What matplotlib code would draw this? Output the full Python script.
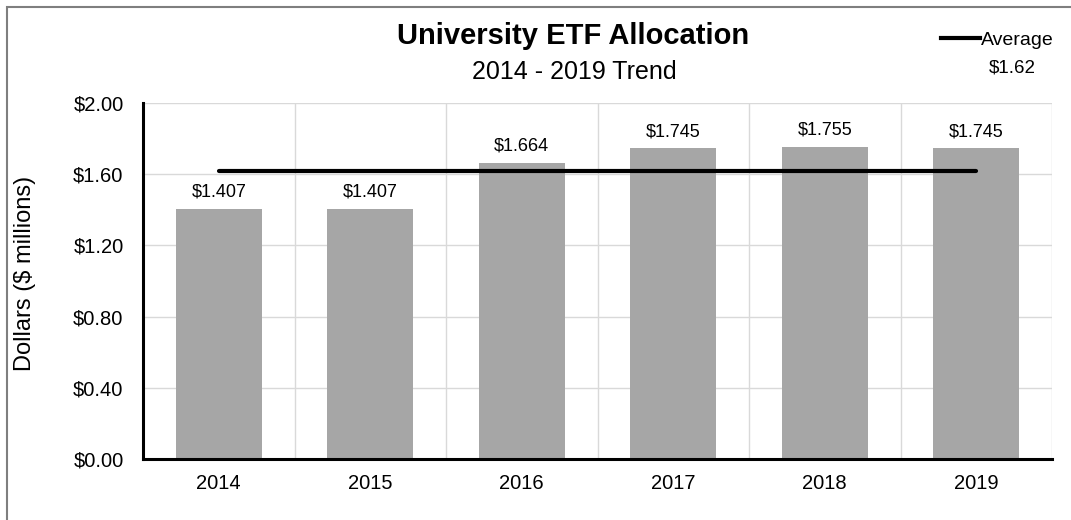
import matplotlib
matplotlib.use("Agg")
import matplotlib.pyplot as plt
import matplotlib.lines as mlines
import numpy as np

plt.rcParams['font.family'] = ['Liberation Sans', 'DejaVu Sans']

# donnees
years = ["2014", "2015", "2016", "2017", "2018", "2019"]
allocation = [1.407, 1.407, 1.664, 1.745, 1.755, 1.745]
yticks = [0.0, 0.4, 0.8, 1.2, 1.6, 2.0]

average = np.mean(allocation)

W, H = 1071, 520
fig = plt.figure(figsize=(W / 100, H / 100), dpi=100)
ax = fig.add_axes([143 / W, 1 - 459 / H, (1052 - 143) / W, (459 - 103) / H])

x = np.arange(len(years))
ax.bar(x, allocation, width=0.57, color='#A6A6A6', zorder=2)
ax.plot([x[0], x[-1]], [average, average], color='black', linewidth=3, zorder=3, solid_capstyle='round')

# etiquettes des barres
for xi, v in zip(x, allocation):
    ax.annotate(f"${v:.3f}", (xi, v), xytext=(0, 6), textcoords='offset points',
                ha='center', va='bottom', fontsize=13)

ax.set_xlim(-0.5, len(years) - 0.5)
ax.set_ylim(0, 2.0)
ax.set_yticks(yticks)
ax.set_yticklabels([f"${t:.2f}" for t in yticks], fontsize=14.5)
ax.set_xticks(x)
ax.set_xticklabels(years, fontsize=14.5)
ax.tick_params(axis='y', length=0, pad=14)
ax.tick_params(axis='x', length=0, pad=11)

# grille : lignes horizontales + separations entre categories
ax.set_xticks(np.arange(-0.5, len(years) + 0.5, 1), minor=True)
ax.grid(axis='y', color='#D9D9D9', linewidth=1, zorder=0)
ax.grid(axis='x', which='minor', color='#D9D9D9', linewidth=1, zorder=0)
ax.tick_params(which='minor', length=0)

for side in ['top', 'right']:
    ax.spines[side].set_visible(False)
for side in ['left', 'bottom']:
    ax.spines[side].set_linewidth(2.2)
    ax.spines[side].set_color('black')

ax.set_ylabel("Dollars ($ millions)", fontsize=17)
ax.yaxis.set_label_coords((36 - 143) / (1052 - 143), 0.52)

fig.text(573 / W, 1 - 36 / H, "University ETF Allocation", ha='center', va='center',
         fontsize=21, fontweight='bold')
fig.text(574 / W, 1 - 72 / H, "2014 - 2019 Trend", ha='center', va='center', fontsize=18)

# legende personnalisee
leg = mlines.Line2D([], [], color='black', linewidth=3, label='Average')
fig.legend(handles=[leg], loc='center left', bbox_to_anchor=(941 / W, 1 - 40 / H), frameon=False,
           fontsize=14, handlelength=2.0, handletextpad=0.05, borderpad=0, borderaxespad=0)
fig.text(1012 / W, 1 - 68 / H, f"${average:.2f}", ha='center', va='center', fontsize=13.5)

# cadre gris autour de la figure
border = plt.Rectangle((7 / W, -0.01), 1.0, 1 - 7 / H + 0.01, transform=fig.transFigure,
                       fill=False, edgecolor='#7F7F7F', linewidth=1.5)
fig.patches.append(border)

fig.savefig("out.png", dpi=100)
